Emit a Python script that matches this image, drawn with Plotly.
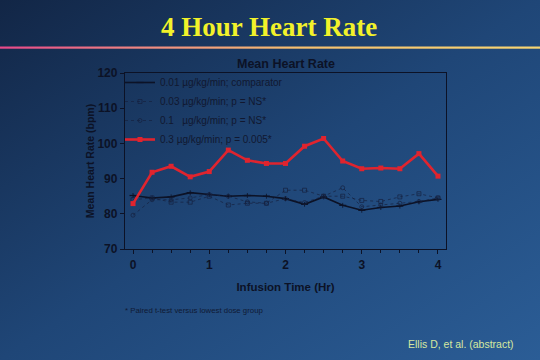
import base64
import plotly.graph_objects as go

# ---- data ----
time_hr = [0, 0.25, 0.5, 0.75, 1.0, 1.25, 1.5, 1.75, 2.0, 2.25, 2.5, 2.75, 3.0, 3.25, 3.5, 3.75, 4.0]
hr_001 = [85.2, 84.5, 84.8, 86.0, 85.5, 85.0, 85.2, 85.0, 84.3, 82.7, 84.8, 82.4, 81.0, 81.8, 82.2, 83.4, 84.1]
hr_003 = [84.0, 84.5, 83.3, 83.3, 85.0, 82.5, 83.0, 83.0, 86.7, 86.7, 85.0, 85.0, 83.8, 83.5, 84.8, 85.7, 84.5]
hr_01 = [79.6, 84.0, 84.0, 84.5, 85.5, 85.0, 83.4, 83.0, 84.3, 83.2, 85.0, 87.4, 82.0, 82.5, 83.0, 83.5, 84.5]
hr_03 = [82.9, 91.8, 93.5, 90.5, 92.0, 98.1, 95.2, 94.3, 94.3, 99.2, 101.4, 95.0, 92.8, 93.0, 92.8, 97.1, 90.7]
err_001 = [0.7] * 17

series_names = [
    "0.01 µg/kg/min; comparator",
    "0.03 µg/kg/min; p = NS*",
    "0.1   µg/kg/min; p = NS*",
    "0.3 µg/kg/min; p = 0.005*",
]
x_ticks = [0, 1, 2, 3, 4]
y_ticks = [70, 80, 90, 100, 110, 120]

W, H = 540, 360
L, R, T, B = 125, 94, 73, 111
pw, ph = W - L - R, H - T - B

svg = f'''<svg xmlns="http://www.w3.org/2000/svg" width="{W}" height="{H}" viewBox="0 0 {W} {H}" preserveAspectRatio="none">
<defs>
<linearGradient id="bg" x1="0" y1="0" x2="1" y2="1">
<stop offset="0" stop-color="#122646"/>
<stop offset="0.5" stop-color="#1f4677"/>
<stop offset="1" stop-color="#2b5d96"/>
</linearGradient>
<linearGradient id="ln" x1="0" y1="0" x2="1" y2="0">
<stop offset="0" stop-color="#e8488a"/>
<stop offset="0.3" stop-color="#f09080"/>
<stop offset="0.55" stop-color="#f6c070"/>
<stop offset="1" stop-color="#f8d672"/>
</linearGradient>
</defs>
<rect x="0" y="0" width="{W}" height="{H}" fill="url(#bg)"/>
<rect x="0" y="46.5" width="{W}" height="2.2" fill="url(#ln)"/>
</svg>'''
src = "data:image/svg+xml;base64," + base64.b64encode(svg.encode()).decode()

dark = "#0c1226"
dot_col = "#15213f"
sans = "Liberation Sans, Arial, sans-serif"

fig = go.Figure()
fig.add_trace(go.Scatter(
    x=time_hr, y=hr_001, name=series_names[0], mode="lines+markers",
    line=dict(color=dark, width=1.6),
    marker=dict(symbol="line-ew", size=5, line=dict(color=dark, width=1.2)),
    error_y=dict(type="data", array=err_001, color=dark, thickness=0.8, width=0),
))
fig.add_trace(go.Scatter(
    x=time_hr, y=hr_003, name=series_names[1], mode="lines+markers",
    line=dict(color=dot_col, width=0.7, dash="dot"),
    marker=dict(symbol="square-open", size=4, color=dot_col, line=dict(width=0.7)),
))
fig.add_trace(go.Scatter(
    x=time_hr, y=hr_01, name=series_names[2], mode="lines+markers",
    line=dict(color=dot_col, width=0.7, dash="dot"),
    marker=dict(symbol="circle-open", size=4, color=dot_col, line=dict(width=0.7)),
))
fig.add_trace(go.Scatter(
    x=time_hr, y=hr_03, name=series_names[3], mode="lines+markers",
    line=dict(color="#e0242e", width=2.6),
    marker=dict(symbol="square", size=5, color="#e0242e"),
))

fig.update_layout(
    width=W, height=H,
    margin=dict(l=L, r=R, t=T, b=B, pad=0),
    paper_bgcolor="#1f4677",
    plot_bgcolor="rgba(0,0,0,0)",
    font=dict(family=sans, color=dark),
    showlegend=True,
    legend=dict(
        x=(120 - L) / pw, y=1 - (68 - T) / ph, xanchor="left", yanchor="top",
        bgcolor="rgba(0,0,0,0)", borderwidth=0,
        font=dict(size=10, color="#111830"),
        tracegroupgap=0, itemwidth=30,
    ),
    images=[dict(
        source=src, xref="paper", yref="paper",
        x=-L / pw, y=1 + T / ph, sizex=W / pw, sizey=H / ph,
        xanchor="left", yanchor="top", sizing="stretch", layer="below",
    )],
    annotations=[
        dict(text="<b>4 Hour Heart Rate</b>", xref="paper", yref="paper",
             x=(269 - L) / pw, y=1 + (T - 27) / ph, xanchor="center", yanchor="middle",
             showarrow=False, font=dict(family="Liberation Serif, Times New Roman, serif", size=27, color="#f2f22a")),
        dict(text="<b>Mean Heart Rate</b>", xref="paper", yref="paper",
             x=(286 - L) / pw, y=1 + (T - 64) / ph, xanchor="center", yanchor="middle",
             showarrow=False, font=dict(size=12.5, color=dark)),
        dict(text="* Paired t-test versus lowest dose group", xref="paper", yref="paper",
             x=(123 - L) / pw, y=-(310 - T - ph) / ph, xanchor="left", yanchor="middle",
             showarrow=False, font=dict(size=7.8, color="#101a34")),
        dict(text="Ellis D, et al. (abstract)", xref="paper", yref="paper",
             x=(406 - L) / pw, y=-(344 - T - ph) / ph, xanchor="left", yanchor="middle",
             showarrow=False, font=dict(size=10.5, color="#d6e8a0")),
    ],
)

fig.update_xaxes(
    range=[-0.105, 4.105], tickvals=x_ticks, ticktext=[str(v) for v in x_ticks],
    showgrid=False, zeroline=False, showline=True, linecolor=dark, linewidth=1.3,
    mirror=True, ticks="outside", ticklen=4, tickcolor=dark,
    tickfont=dict(size=12, color=dark, family=sans, weight="bold"),
    minor=dict(dtick=0.25, tick0=0, ticks="outside", ticklen=3, tickcolor=dark, showgrid=False),
    title=dict(text="<b>Infusion Time (Hr)</b>", font=dict(size=11.5, color=dark), standoff=12),
)
fig.update_yaxes(
    range=[70, 120], tickvals=y_ticks,
    showgrid=False, zeroline=False, showline=True, linecolor=dark, linewidth=1.3,
    mirror=True, ticks="outside", ticklen=4, tickcolor=dark,
    tickfont=dict(size=12, color=dark, family=sans, weight="bold"),
    title=dict(text="<b>Mean Heart Rate (bpm)</b>", font=dict(size=10.5, color=dark), standoff=0),
)

fig.write_html(
    "out.html",
    config={"displayModeBar": False},
    post_script="document.body.style.margin='0';document.body.style.padding='0';",
)
